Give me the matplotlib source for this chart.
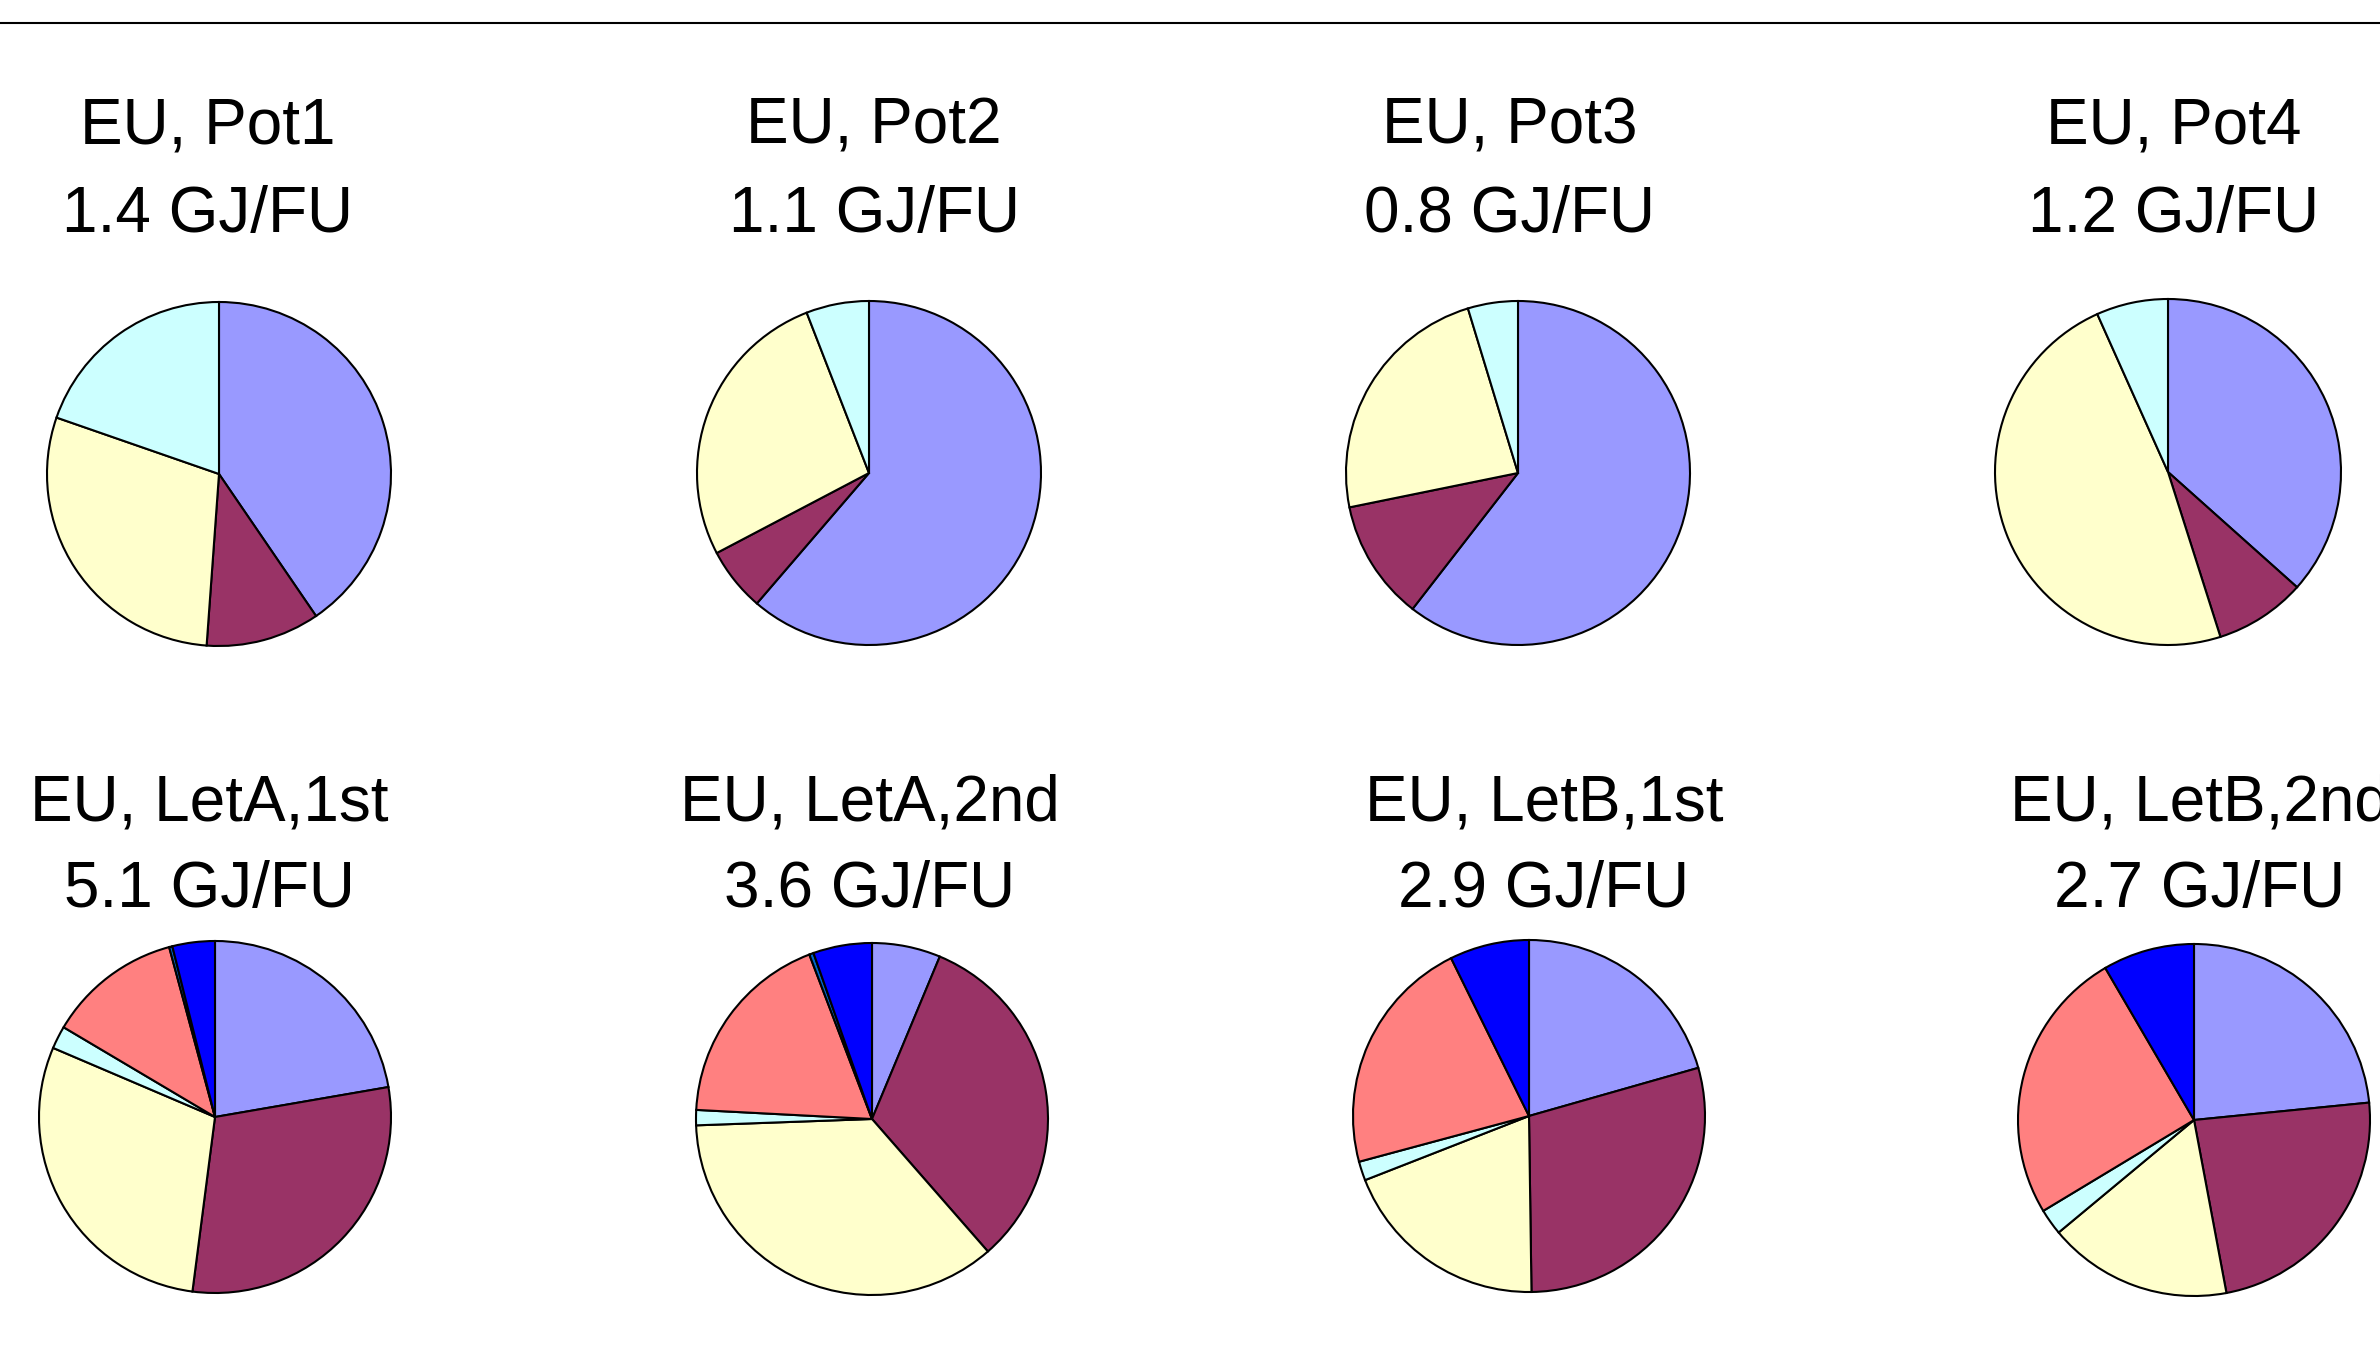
import matplotlib
matplotlib.use("Agg")
import matplotlib.pyplot as plt
from matplotlib.lines import Line2D

plt.rcParams['font.family'] = ['Liberation Sans', 'DejaVu Sans']

# ---- data ----
scenarios = ["EU, Pot1", "EU, Pot2", "EU, Pot3", "EU, Pot4",
             "EU, LetA,1st", "EU, LetA,2nd", "EU, LetB,1st", "EU, LetB,2nd"]
totals_gj = [1.4, 1.1, 0.8, 1.2, 5.1, 3.6, 2.9, 2.7]

# shares (%) of each contribution per scenario
share_c1 = [40.5, 61.3, 60.5, 36.6, 22.3, 6.3, 20.6, 23.4]
share_c2 = [10.7, 6.0, 11.3, 8.5, 29.8, 32.3, 29.2, 23.6]
share_c3 = [29.2, 26.8, 23.5, 48.2, 29.4, 35.9, 19.3, 16.9]
share_c4 = [19.7, 5.9, 4.7, 6.7, 2.1, 1.4, 1.75, 2.4]
share_c5 = [0, 0, 0, 0, 12.3, 18.4, 21.9, 25.2]
share_c6 = [0, 0, 0, 0, 0.3, 0.4, 0, 0]
share_c7 = [0, 0, 0, 0, 3.9, 5.4, 7.3, 8.4]

slice_colors = ["#9999FF", "#993366", "#FFFFCC", "#CCFFFF",
                "#FF8080", "#0066CC", "#0000FF"]

# ---- layout (pixels) ----
W, H = 2380, 1349
fig = plt.figure(figsize=(W / 100, H / 100), dpi=100)
fig.patch.set_facecolor("white")

centers = [(219, 474), (869, 473), (1518, 473), (2168, 472),
           (215, 1117), (872, 1119), (1529, 1116), (2194, 1120)]
radii = [172, 172, 172, 173, 176, 176, 176, 176]
title_x = [208, 874, 1510, 2174, 209, 870, 1544, 2200]
title_base = [(144, 232)] * 4 + [(820, 907)] * 4

all_shares = [share_c1, share_c2, share_c3, share_c4, share_c5, share_c6, share_c7]

pad = 1.03
for i, name in enumerate(scenarios):
    cx, cy = centers[i]
    r = radii[i] * pad
    ax = fig.add_axes([(cx - r) / W, 1 - (cy + r) / H, 2 * r / W, 2 * r / H])
    vals, cols = [], []
    for s, c in zip(all_shares, slice_colors):
        if s[i] > 0:
            vals.append(s[i])
            cols.append(c)
    ax.pie(vals, colors=cols, startangle=90, counterclock=False,
           wedgeprops=dict(edgecolor="black", linewidth=1.5))
    ax.set_xlim(-pad, pad)
    ax.set_ylim(-pad, pad)
    ax.set_aspect("equal")
    ax.axis("off")

    tx = title_x[i]
    y1, y2 = title_base[i]
    fig.text(tx / W, 1 - y1 / H, name, ha="center", va="baseline", fontsize=46)
    fig.text(tx / W, 1 - y2 / H, f"{totals_gj[i]:.1f} GJ/FU", ha="center",
             va="baseline", fontsize=46)

fig.add_artist(Line2D([0, 1], [1 - 23 / H, 1 - 23 / H], transform=fig.transFigure,
                      color="black", linewidth=1.5))

fig.savefig("out.png", dpi=100)
